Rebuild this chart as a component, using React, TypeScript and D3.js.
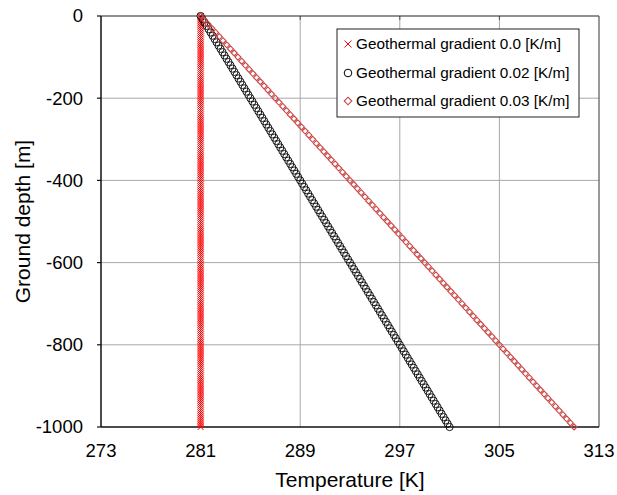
import React from "react";
import * as d3 from "d3";

// Temperature profiles with depth for several geothermal gradients
const surfaceTemperature = 281; // K
const gradients = [0.0, 0.02, 0.03]; // K/m
const seriesLabels = [
  "Geothermal gradient 0.0 [K/m]",
  "Geothermal gradient 0.02 [K/m]",
  "Geothermal gradient 0.03 [K/m]",
];
// depth samples (m) used by each profile
const fineDepths = d3.range(0, 1001, 5);
const mediumDepths = d3.range(0, 1001, 8);
const coarseDepths = d3.range(0, 1001, 10);
const xTicks = [273, 281, 289, 297, 305, 313];
const yTicks = [0, -200, -400, -600, -800, -1000];

const W = 617;
const H = 495;
const M = { left: 101, top: 16, right: 599, bottom: 427 };
const FONT = "'Liberation Sans', Arial, sans-serif";

export default function App() {
  const x = d3.scaleLinear().domain([273, 313]).range([M.left, M.right]);
  const y = d3.scaleLinear().domain([0, -1000]).range([M.top, M.bottom]);

  const profile = (g: number, depths: number[]) =>
    depths.map((d) => ({ t: surfaceTemperature + g * d, z: -d }));

  const s0 = profile(gradients[0], fineDepths);
  const s1 = profile(gradients[1], mediumDepths);
  const s2 = profile(gradients[2], coarseDepths);

  const cross = (cx: number, cy: number, r: number, color: string, key?: React.Key) => (
    <path
      key={key}
      d={`M${cx - r},${cy - r}L${cx + r},${cy + r}M${cx - r},${cy + r}L${cx + r},${cy - r}`}
      stroke={color}
      strokeWidth={1}
      fill="none"
    />
  );
  const diamond = (cx: number, cy: number, r: number, color: string, key?: React.Key) => (
    <path
      key={key}
      d={`M${cx},${cy - r}L${cx + r},${cy}L${cx},${cy + r}L${cx - r},${cy}Z`}
      stroke={color}
      strokeWidth={1.1}
      fill="none"
    />
  );

  const red = "#ff0000";
  const dRed = "#cc4444";

  const legendX = 337;
  const legendY = 29;
  const legendW = 242;
  const legendH = 88;
  const rowY = [44, 73, 101];

  return (
    <svg width={W} height={H} style={{ position: "absolute", left: 0, top: 0, background: "#fff" }}>
      <rect x={0} y={0} width={W} height={H} fill="#fff" />
      {/* grid */}
      {xTicks.slice(1, -1).map((t) => (
        <line key={"gx" + t} x1={x(t)} x2={x(t)} y1={M.top} y2={M.bottom} stroke="#a8a8a8" strokeWidth={1} />
      ))}
      {yTicks.slice(1, -1).map((t) => (
        <line key={"gy" + t} x1={M.left} x2={M.right} y1={y(t)} y2={y(t)} stroke="#a8a8a8" strokeWidth={1} />
      ))}
      {/* top inner ticks */}
      {xTicks.slice(1, -1).map((t) => (
        <line key={"tt" + t} x1={x(t)} x2={x(t)} y1={M.top} y2={M.top + 4} stroke="#555" strokeWidth={1} />
      ))}
      {/* frame */}
      <line x1={M.left} x2={M.right} y1={M.top} y2={M.top} stroke="#222" strokeWidth={1.2} />
      <line x1={M.right} x2={M.right} y1={M.top} y2={M.bottom} stroke="#555" strokeWidth={1.2} />
      <line x1={M.left} x2={M.left} y1={M.top} y2={M.bottom} stroke="#111" strokeWidth={1.5} />
      <line x1={M.left} x2={M.right} y1={M.bottom} y2={M.bottom} stroke="#111" strokeWidth={1.5} />
      {/* y ticks */}
      {yTicks.map((t) => (
        <g key={"yt" + t}>
          <line x1={M.left - 4} x2={M.left} y1={y(t)} y2={y(t)} stroke="#111" strokeWidth={1.2} />
          <text x={M.left - 18} y={y(t)} dy="0.35em" textAnchor="end" fontFamily={FONT} fontSize={18.5} fill="#000">
            {t}
          </text>
        </g>
      ))}
      {/* x ticks */}
      {xTicks.map((t) => (
        <text key={"xt" + t} x={x(t)} y={457} textAnchor="middle" fontFamily={FONT} fontSize={18.5} fill="#000">
          {t}
        </text>
      ))}
      {/* axis titles */}
      <text x={350} y={487} textAnchor="middle" fontFamily={FONT} fontSize={21} fill="#000">
        Temperature [K]
      </text>
      <text
        transform={`translate(30,${(M.top + M.bottom) / 2}) rotate(-90)`}
        textAnchor="middle"
        fontFamily={FONT}
        fontSize={21}
        fill="#000"
      >
        Ground depth [m]
      </text>
      {/* series */}
      <g>{s0.map((p, i) => cross(x(p.t), y(p.z), 3, red, "a" + i))}</g>
      <g>
        {s1.map((p, i) => (
          <circle key={"b" + i} cx={x(p.t)} cy={y(p.z)} r={3.6} fill="none" stroke="#000" strokeWidth={0.9} />
        ))}
      </g>
      <g>{s2.map((p, i) => diamond(x(p.t), y(p.z), 3, dRed, "c" + i))}</g>
      {/* legend */}
      <rect x={legendX} y={legendY} width={legendW} height={legendH} fill="#fff" stroke="#222" strokeWidth={1} />
      {cross(legendX + 11, rowY[0], 3.5, red)}
      <circle cx={legendX + 11} cy={rowY[1]} r={3.8} fill="none" stroke="#000" strokeWidth={1} />
      {diamond(legendX + 11, rowY[2], 3.8, dRed)}
      {seriesLabels.map((s, i) => (
        <text key={s} x={legendX + 19} y={rowY[i]} dy="0.35em" fontFamily={FONT} fontSize={15.3} fill="#000">
          {s}
        </text>
      ))}
    </svg>
  );
}
